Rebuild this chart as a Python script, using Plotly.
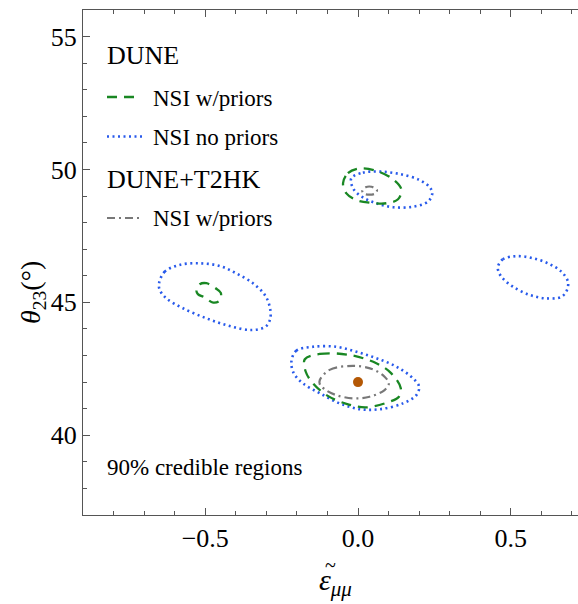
import plotly.graph_objects as go

# ---------------- data ----------------
# DUNE, NSI no priors (blue dotted) - three islands
dune_nopri_main_x = [-0.218, -0.202, -0.147, -0.071, -0.005, 0.060, 0.126, 0.180, 0.200, 0.191, 0.147, 0.071, 0.006, -0.060, -0.125, -0.180, -0.210]
dune_nopri_main_y = [42.77, 43.18, 43.33, 43.33, 43.14, 42.90, 42.58, 42.14, 41.83, 41.51, 41.20, 40.98, 40.98, 41.20, 41.58, 41.95, 42.33]
dune_nopri_up_x = [-0.022, 0.016, 0.071, 0.136, 0.202, 0.235, 0.243, 0.229, 0.180, 0.115, 0.060, 0.016, -0.014]
dune_nopri_up_y = [49.67, 49.88, 49.92, 49.83, 49.60, 49.33, 49.10, 48.79, 48.60, 48.58, 48.73, 48.95, 49.25]
dune_nopri_left_x = [-0.651, -0.633, -0.584, -0.518, -0.453, -0.398, -0.344, -0.305, -0.289, -0.287, -0.302, -0.349, -0.420, -0.496, -0.573, -0.627, -0.649]
dune_nopri_left_y = [45.72, 46.15, 46.41, 46.47, 46.37, 46.09, 45.72, 45.28, 44.84, 44.40, 44.09, 43.96, 44.11, 44.40, 44.78, 45.15, 45.47]
dune_nopri_right_x = [0.458, 0.474, 0.518, 0.573, 0.627, 0.666, 0.687, 0.684, 0.666, 0.616, 0.562, 0.507, 0.474, 0.460]
dune_nopri_right_y = [46.34, 46.62, 46.74, 46.66, 46.44, 46.15, 45.78, 45.47, 45.21, 45.15, 45.28, 45.59, 45.90, 46.15]

# DUNE, NSI w/priors (green dashed)
dune_pri_main_x = [-0.174, -0.125, -0.027, 0.060, 0.109, 0.140, 0.134, 0.098, 0.027, -0.038, -0.103, -0.147, -0.171]
dune_pri_main_y = [42.86, 43.06, 43.02, 42.71, 42.33, 41.77, 41.45, 41.24, 41.05, 41.18, 41.51, 41.95, 42.39]
dune_pri_up_x = [-0.049, -0.033, 0.006, 0.060, 0.115, 0.142, 0.131, 0.093, 0.038, -0.005, -0.038]
dune_pri_up_y = [49.48, 49.86, 50.04, 49.95, 49.63, 49.25, 48.88, 48.73, 48.75, 48.85, 49.10]
dune_pri_left_x = [-0.529, -0.518, -0.496, -0.466, -0.449, -0.453, -0.474, -0.502, -0.524]
dune_pri_left_y = [45.47, 45.68, 45.72, 45.53, 45.36, 45.06, 44.99, 45.19, 45.31]

# DUNE+T2HK, NSI w/priors (grey dash-dot)
comb_pri_main_x = [-0.125, -0.093, -0.016, 0.049, 0.087, 0.101, 0.087, 0.038, -0.016, -0.071, -0.109, -0.125]
comb_pri_main_y = [42.08, 42.46, 42.61, 42.48, 42.20, 41.95, 41.70, 41.45, 41.39, 41.51, 41.73, 41.92]
comb_pri_up_x = [0.014, 0.025, 0.044, 0.062, 0.057, 0.038, 0.020]
comb_pri_up_y = [49.20, 49.33, 49.35, 49.23, 49.10, 49.05, 49.09]

# true point
true_x = [0.0]
true_y = [42.0]

x_ticks = [-0.5, 0.0, 0.5]
y_ticks = [40, 45, 50, 55]

# ---------------- styles ----------------
GREEN = "rgb(25,135,35)"
BLUE = "rgb(40,90,235)"
GREY = "rgb(120,120,120)"
ORANGE = "rgb(180,88,5)"
DASH_G = "10px,7px"
DASH_B = "2px,3.5px"
DASH_K = "8px,4px,2px,4px"
FONT = "Liberation Serif"

fig = go.Figure()


def closed(xs, ys):
    return xs + xs[:1], ys + ys[:1]


def add_contour(xs, ys, color, dash, width):
    cx, cy = closed(xs, ys)
    fig.add_trace(go.Scatter(x=cx, y=cy, mode="lines",
                             line=dict(color=color, dash=dash, width=width, shape="spline", smoothing=1.0),
                             showlegend=False, hoverinfo="skip"))


for xs, ys in [(dune_nopri_main_x, dune_nopri_main_y), (dune_nopri_up_x, dune_nopri_up_y),
               (dune_nopri_left_x, dune_nopri_left_y), (dune_nopri_right_x, dune_nopri_right_y)]:
    add_contour(xs, ys, BLUE, DASH_B, 2.6)
for xs, ys in [(dune_pri_main_x, dune_pri_main_y), (dune_pri_up_x, dune_pri_up_y),
               (dune_pri_left_x, dune_pri_left_y)]:
    add_contour(xs, ys, GREEN, DASH_G, 2.3)
for xs, ys in [(comb_pri_main_x, comb_pri_main_y), (comb_pri_up_x, comb_pri_up_y)]:
    add_contour(xs, ys, GREY, DASH_K, 2.2)

fig.add_trace(go.Scatter(x=true_x, y=true_y, mode="markers",
                         marker=dict(color=ORANGE, size=10), showlegend=False, hoverinfo="skip"))

# ---------------- layout ----------------
W, H = 578, 604
L, R, T, B = 83, 0, 10, 89
PW, PH = W - L - R, H - T - B


def px(xp):
    return (xp - L) / PW


def py(yp):
    return 1 - (yp - T) / PH


axis_common = dict(showline=True, linecolor="#555", linewidth=1.3, ticks="inside",
                   tickcolor="#555", tickwidth=1.2, ticklen=7, showgrid=False, zeroline=False,
                   tickfont=dict(family=FONT, size=26, color="black"),
                   minor=dict(ticks="inside", ticklen=4, tickcolor="#555", tickwidth=1.0, showgrid=False))

fig.update_xaxes(range=[-0.9, 0.72], tickvals=x_ticks, tickformat=".1f", mirror="ticks",
                 minor_dtick=0.1, minor_tick0=0, ticklabelstandoff=0, **axis_common)
fig.update_yaxes(range=[37, 56], tickvals=y_ticks, mirror=False,
                 minor_dtick=1, minor_tick0=0, **axis_common)

ann = []
shapes = []


def text(xp, yp, s, size):
    ann.append(dict(x=px(xp), y=py(yp), xref="paper", yref="paper", text=s, showarrow=False,
                    xanchor="left", yanchor="middle", font=dict(family=FONT, size=size, color="black")))


text(105, 56, "DUNE", 26)
text(151, 99, "NSI w/priors", 23)
text(151, 137, "NSI no priors", 23)
text(105, 179, "DUNE+T2HK", 26)
text(151, 219, "NSI w/priors", 23)
text(105, 467, "90% credible regions", 23)


def sample(x0, x1, yp, color, dash, width):
    shapes.append(dict(type="line", xref="paper", yref="paper", x0=px(x0), x1=px(x1), y0=py(yp), y1=py(yp),
                       line=dict(color=color, dash=dash, width=width)))


sample(107, 136, 97, GREEN, DASH_G, 2.3)
sample(107, 142, 136.5, BLUE, DASH_B, 2.6)
sample(107, 143, 218, GREY, DASH_K, 2.2)

# axis titles
ann.append(dict(x=px(32), y=py(293), xref="paper", yref="paper", text="<i>θ</i><sub>23</sub>(°)",
                showarrow=False, textangle=-90, xanchor="center", yanchor="middle",
                font=dict(family=FONT, size=28, color="black")))
ann.append(dict(x=px(335), y=py(582), xref="paper", yref="paper", text="<i>ε</i><sub><i>μμ</i></sub>",
                showarrow=False, xanchor="center", yanchor="middle",
                font=dict(family=FONT, size=30, color="black")))
ann.append(dict(x=px(330), y=py(565), xref="paper", yref="paper", text="~",
                showarrow=False, xanchor="center", yanchor="middle",
                font=dict(family=FONT, size=20, color="black")))

fig.update_layout(width=W, height=H, autosize=False,
                  margin=dict(l=L, r=R, t=T, b=B),
                  paper_bgcolor="white", plot_bgcolor="white",
                  annotations=ann, shapes=shapes, showlegend=False)

fig.write_html("out.html")
